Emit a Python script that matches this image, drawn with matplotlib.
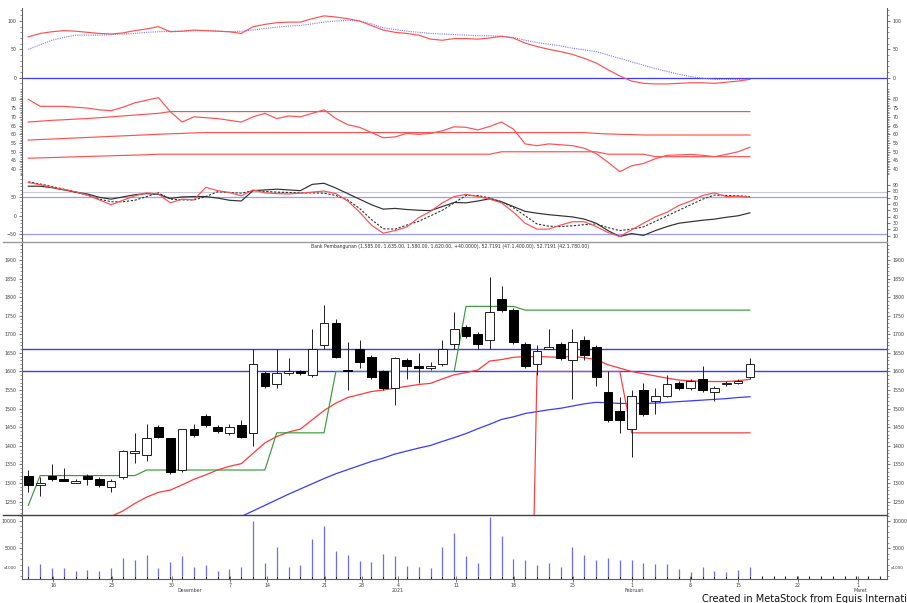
import matplotlib
matplotlib.use("Agg")
import matplotlib.pyplot as plt
from matplotlib.lines import Line2D
from matplotlib.ticker import MultipleLocator
import numpy as np

# ---------------- data ----------------
opens = [1320, 1295, 1320, 1310, 1300, 1320, 1310, 1290, 1315, 1380,
         1375, 1450, 1420, 1335, 1445, 1480, 1450, 1435, 1455, 1435,
         1595, 1565, 1595, 1600, 1590, 1670, 1730, 1605, 1660, 1640,
         1600, 1555, 1630, 1615, 1610, 1620, 1675, 1720, 1700, 1685,
         1795, 1765, 1675, 1620, 1660, 1675, 1630, 1685, 1665, 1545,
         1495, 1445, 1550, 1520, 1535, 1570, 1555, 1580, 1545, 1565,
         1570, 1585]
highs = [1335, 1315, 1350, 1340, 1310, 1325, 1315, 1310, 1390, 1435,
         1460, 1455, 1420, 1445, 1460, 1485, 1455, 1460, 1470, 1660,
         1600, 1660, 1635, 1605, 1715, 1780, 1740, 1680, 1685, 1645,
         1605, 1640, 1635, 1650, 1625, 1685, 1760, 1725, 1705, 1855,
         1830, 1770, 1680, 1670, 1715, 1680, 1715, 1695, 1670, 1600,
         1530, 1550, 1570, 1555, 1590, 1575, 1580, 1615, 1560, 1575,
         1580, 1635]
lows = [1275, 1265, 1305, 1305, 1300, 1295, 1290, 1275, 1310, 1355,
        1360, 1420, 1325, 1330, 1425, 1450, 1435, 1430, 1420, 1400,
        1555, 1555, 1590, 1590, 1585, 1660, 1635, 1550, 1610, 1580,
        1550, 1510, 1580, 1570, 1605, 1615, 1660, 1690, 1660, 1660,
        1760, 1675, 1610, 1590, 1660, 1630, 1525, 1630, 1560, 1465,
        1435, 1370, 1480, 1485, 1530, 1550, 1550, 1545, 1520, 1560,
        1565, 1580]
closes = [1295, 1300, 1310, 1305, 1305, 1310, 1295, 1305, 1385, 1385,
          1420, 1425, 1330, 1445, 1430, 1455, 1440, 1450, 1425, 1620,
          1560, 1595, 1600, 1595, 1660, 1730, 1640, 1600, 1625, 1585,
          1555, 1635, 1615, 1610, 1615, 1660, 1715, 1695, 1675, 1760,
          1765, 1680, 1615, 1655, 1665, 1635, 1680, 1645, 1585, 1470,
          1470, 1535, 1485, 1535, 1565, 1555, 1575, 1550, 1555, 1570,
          1575, 1620]
volume = [1760, 2070, 1340, 1340, 900, 1030, 840, 1450, 3170, 2860,
          3770, 1450, 2550, 3590, 1630, 1940, 840, 1210, 1630, 10050,
          2250, 5290, 1520, 1940, 6650, 9140, 4560, 3770, 2670, 2550,
          3960, 3650, 1760, 1630, 1450, 5180, 7860, 3590, 2360, 10680,
          7250, 2990, 2860, 1940, 2360, 1630, 5180, 3770, 2860, 3170,
          2860, 2860, 2360, 2120, 2120, 1150, 710, 1520, 840, 710,
          1030, 1630]
ma_short = [np.nan] * 7 + [
    1210, 1225, 1245, 1262, 1275, 1281, 1295, 1310, 1322, 1335,
    1345, 1352, 1380, 1408, 1425, 1437, 1445, 1470, 1495, 1515,
    1530, 1538, 1546, 1550, 1555, 1560, 1565, 1568, 1580, 1591,
    1597, 1604, 1628, 1632, 1638, 1640, 1640, 1639, 1638, 1641,
    1637, 1632, 1618, 1609, 1600, 1594, 1588, 1582, 1577, 1575,
    1573, 1573, 1573, 1575, 1579]
ma_long = [np.nan] * 18 + [
    1210, 1225, 1240, 1255, 1270, 1284, 1298, 1312, 1325, 1336,
    1347, 1358, 1367, 1378, 1386, 1394, 1401, 1412, 1422, 1433,
    1446, 1458, 1471, 1478, 1487, 1492, 1497, 1501, 1507, 1513,
    1517, 1516, 1514, 1514, 1514, 1515, 1517, 1519, 1521, 1523,
    1525, 1527, 1530, 1532]
green_stop = [1240, 1320, 1320, 1320, 1320, 1320, 1320, 1320, 1320, 1320,
              1335, 1335, 1335, 1335, 1335, 1335, 1335, 1335, 1335, 1335,
              1335, 1435, 1435, 1435, 1435, 1435, 1600, 1600, 1600, 1600,
              1600, 1600, 1600, 1600, 1600, 1600, 1600, 1775, 1775, 1775,
              1775, 1775, 1765, 1765, 1765, 1765, 1765, 1765, 1765, 1765,
              1765, 1765, 1765, 1765, 1765, 1765, 1765, 1765, 1765, 1765,
              1765, 1765]
red_stop = [np.nan] * 42 + [0, 1600, 1600, 1600, 1600, 1600, 1600, 1600, 1600,
                            1435, 1435, 1435, 1435, 1435, 1435, 1435, 1435,
                            1435, 1435, 1435]
price_levels = [1660, 1600]

macd = [72, 78, 81, 83, 82, 80, 78, 77, 79, 83,
        86, 90, 81, 82, 84, 83, 82, 81, 78, 90,
        94, 97, 98, 98, 104, 109, 107, 104, 100, 92,
        84, 80, 78, 75, 68, 66, 69, 69, 68, 70,
        73, 70, 61, 55, 50, 46, 41, 34, 26, 14,
        3, -6, -10, -11, -11, -10, -9, -9, -10, -8,
        -6, -3]
signal = [50, 58, 66, 71, 75, 75, 75, 76, 77, 78,
          80, 81, 82, 82, 83, 83, 82, 81, 82, 84,
          87, 89, 91, 92, 95, 98, 100, 101, 100, 95,
          88, 85, 82, 80, 78, 77, 76, 75, 74, 74,
          73, 71, 66, 62, 59, 56, 52, 49, 46, 40,
          34, 28, 22, 16, 11, 6, 2, -1, -3, -3,
          -3, -3]

rsi = [80, 76, 76, 76, 75.5, 75, 74, 73.5, 75.5, 78,
       79.5, 81, 73, 67, 70, 69.5, 69, 68, 67, 70,
       72, 69, 70.5, 70, 72, 74, 69, 65.5, 64, 61,
       58, 58.5, 60.5, 60, 60.5, 62, 64.3, 64, 62.5, 64.5,
       67, 63, 54.5, 53.5, 54.5, 54, 53.5, 52, 49, 44,
       38.6, 42, 43.3, 46, 48, 48.2, 48.5, 48, 47.2, 48.5,
       50, 52.6]
band_upper = [67, 67.5, 68, 68.3, 68.7, 69, 69.5, 70, 70.5, 71,
              71.5, 72, 73, 73, 73, 73, 73, 73, 73, 73,
              73, 73, 73, 73, 73, 73, 73, 73, 73, 73,
              73, 73, 73, 73, 73, 73, 73, 73, 73, 73,
              73, 73, 73, 73, 73, 73, 73, 73, 73, 73,
              73, 73, 73, 73, 73, 73, 73, 73, 73, 73,
              73, 73]
band_mid = [56.7, 57, 57.3, 57.6, 57.9, 58.2, 58.5, 58.8, 59.1, 59.4,
            59.7, 60, 60.3, 60.5, 60.8, 61, 61, 61, 61, 61,
            61, 61, 61, 61, 61, 61, 61, 61, 61, 61,
            61, 61, 61, 61, 61, 61, 61, 61, 61, 61,
            61, 61, 61, 61, 61, 61, 61, 61, 60.5, 60.2,
            60, 59.8, 59.6, 59.6, 59.6, 59.6, 59.6, 59.6, 59.6, 59.6,
            59.6, 59.6]
band_low = [46.3, 46.5, 46.7, 46.9, 47.1, 47.3, 47.5, 47.7, 47.9, 48.1,
            48.3, 48.6, 48.6, 48.6, 48.6, 48.6, 48.6, 48.6, 48.6, 48.6,
            48.6, 48.6, 48.6, 48.6, 48.6, 48.6, 48.6, 48.6, 48.6, 48.6,
            48.6, 48.6, 48.6, 48.6, 48.6, 48.6, 48.6, 48.6, 48.6, 48.6,
            50, 50, 50, 50, 50, 50, 50, 50, 50, 48.6,
            48.6, 48.6, 48.6, 47.2, 47.2, 47.2, 47.2, 47.2, 47.2, 47.2,
            47.2, 47.2]

stoch_k = [90, 84, 77, 71, 65, 56, 43, 30, 42, 54,
           62, 59, 35, 45, 43, 77, 68, 63, 54, 70,
           62, 60, 59, 61, 64, 67, 60, 40, 10, -25,
           -47, -40, -30, -5, 12, 35, 52, 58, 52, 45,
           35, 10, -20, -36, -36, -25, -16, -16, -29, -45,
           -56, -38, -20, -3, 10, 28, 40, 55, 62, 52,
           53, 50]
stoch_d = [92, 86, 79, 72, 64, 56, 45, 38, 38, 42,
           52, 62, 45, 43, 43, 52, 65, 63, 61, 68,
           66, 64, 63, 62, 62, 61, 55, 43, 20, -10,
           -35, -36, -25, -15, 0, 15, 35, 55, 55, 48,
           38, 22, 0, -22, -28, -29, -27, -24, -22, -32,
           -40, -36, -30, -15, 0, 15, 30, 45, 56, 55,
           54, 52]
osc_black = [80, 80, 76, 70, 64, 59, 50, 45, 51, 57,
             60, 58, 47, 51, 52, 52, 48, 42, 40, 68,
             70, 72, 70, 68, 85, 88, 75, 60, 45, 30,
             18, 20, 17, 15, 14, 25, 36, 35, 40, 46,
             38, 25, 12, 7, 3, 0, -3, -9, -20, -40,
             -56, -48, -53, -40, -29, -20, -16, -12, -9, -4,
             0, 8]

date_labels = ['16', '23', '30', '7', '14', '21', '28', '4', '11', '18',
               '25', '1', '8', '15', '22', '1']
month_labels = ['Desember', '2021', 'Februari', 'Maret']

title = ("Bank Pembangunan (1,585.00, 1,635.00, 1,580.00, 1,620.00, +40.0000), "
         "52.7191 (47.1,400.00), 52.7191 (42.1,780.00)")

# ---------------- layout (pixel geometry) ----------------
W, H = 907, 603
fig = plt.figure(figsize=(W / 100, H / 100), dpi=100)
X0, X1 = 22, 887
STEP = 11.83
XFIRST = 28.3
xlim = ((X0 - XFIRST) / STEP, (X1 - XFIRST) / STEP)
idx = np.arange(len(closes))
AX_COL = '#606060'
LBL = 3.4
RED = '#ff5050'


def px_axes(top, bottom):
    ax = fig.add_axes([X0 / W, 1 - bottom / H, (X1 - X0) / W, (bottom - top) / H])
    ax.set_xlim(*xlim)
    ax.patch.set_alpha(0)
    for s in ('top', 'bottom'):
        ax.spines[s].set_visible(False)
    for s in ('left', 'right'):
        ax.spines[s].set_color(AX_COL)
        ax.spines[s].set_linewidth(0.8)
    ax.set_xticks([])
    ax.tick_params(axis='y', which='both', left=True, right=True,
                   labelleft=True, labelright=True, labelsize=LBL,
                   colors='#404040', direction='out', length=2.5,
                   width=0.5, pad=1.5)
    ax.tick_params(axis='y', which='minor', length=1.5, width=0.4)
    return ax


def pxline(x0, x1, y, color, lw):
    fig.add_artist(Line2D([x0 / W, x1 / W], [1 - y / H, 1 - y / H],
                          color=color, lw=lw, transform=fig.transFigure))


# ---- panel 1: MACD ----
ax1 = px_axes(8, 88)
ax1.set_ylim(-18.2, 122.9)
ax1.set_yticks([0, 50, 100])
ax1.yaxis.set_minor_locator(MultipleLocator(10))
ax1.axhline(0, color='#3a3aff', lw=0.9)
ax1.plot(idx, signal, color='#7a7aff', lw=0.8, ls=(0, (1, 1)))
ax1.plot(idx, macd, color=RED, lw=0.85)

# ---- panel 2: RSI with bands ----
ax2 = px_axes(88, 175)
ax2.set_ylim(36.7, 86.5)
ax2.set_yticks([40, 45, 50, 55, 60, 65, 70, 75, 80])
ax2.yaxis.set_minor_locator(MultipleLocator(1))
for band in (band_upper, band_mid, band_low):
    ax2.plot(idx, band, color=RED, lw=0.85)
ax2.plot(idx, rsi, color=RED, lw=0.85)

# ---- panel 3: stochastic ----
ax3 = px_axes(175, 241.7)
ax3.set_ylim(-70, 110.3)
ax3.set_yticks([-50, 0, 50])
ax3.yaxis.set_minor_locator(MultipleLocator(10))
ax3.tick_params(axis='y', which='both', labelright=False)
ax3r = ax3.twinx()
ax3r.set_ylim(0.47, 105.7)
ax3r.set_yticks([10, 20, 30, 40, 50, 60, 70, 80, 90])
ax3r.tick_params(axis='y', which='both', labelsize=LBL, colors='#404040',
                 length=2.5, width=0.5, pad=1.5)
for s in ('top', 'bottom', 'left', 'right'):
    ax3r.spines[s].set_visible(False)
ax3.axhline(65, color='#c8c8d8', lw=0.8)
ax3.axhline(50, color='#9a9aff', lw=0.9)
ax3.axhline(-50, color='#9a9aff', lw=0.9)
ax3.plot(idx, osc_black, color='#303030', lw=0.85)
ax3.plot(idx, stoch_d, color='#303030', lw=0.8, ls=(0, (2, 1.5)))
ax3.plot(idx, stoch_k, color=RED, lw=0.85)

# ---- main price panel ----
axm = px_axes(241.7, 515)
axm.set_ylim(1214, 1949)
axm.set_yticks(np.arange(1250, 1901, 50))
axm.yaxis.set_minor_locator(MultipleLocator(10))
for lvl in price_levels:
    axm.axhline(lvl, color='#3a3aff', lw=1.0)
axm.plot(idx, ma_long, color='#3a3aff', lw=0.9)
axm.plot(idx, ma_short, color='#ff3a3a', lw=0.9)
axm.plot(idx, green_stop, color='#3a9a3a', lw=0.85)
axm.plot(idx, red_stop, color='#ff3a3a', lw=0.85)
o = np.array(opens, float)
c = np.array(closes, float)
hi = np.array(highs, float)
lo = np.array(lows, float)
axm.vlines(idx, lo, hi, color='#202020', lw=0.7, zorder=3)
up = c >= o
body_bottom = np.minimum(o, c)
body_h = np.maximum(np.abs(c - o), 1.5)
axm.bar(idx[up], body_h[up], bottom=body_bottom[up], width=0.74,
        facecolor='white', edgecolor='#202020', lw=0.7, zorder=4)
axm.bar(idx[~up], body_h[~up], bottom=body_bottom[~up], width=0.74,
        facecolor='black', edgecolor='black', lw=0.7, zorder=4)
fig.text(450 / W, 1 - 246.5 / H, title, fontsize=3.3, color='#303030',
         ha='center', va='center')

# ---- volume panel ----
axv = px_axes(515, 579)
axv.set_ylim(-623, 11099)
axv.set_yticks([5000, 10000])
axv.yaxis.set_minor_locator(MultipleLocator(1000))
axv.vlines(idx, 0, volume, color='#6a6aff', lw=0.9)
axv.spines['bottom'].set_visible(True)
axv.spines['bottom'].set_color(AX_COL)
axv.spines['bottom'].set_linewidth(0.8)
tick_px = [53, 112, 172, 230, 267, 325, 362, 398, 456, 514, 573, 632, 690,
           738, 798, 858]
axv.set_xticks([(p - XFIRST) / STEP for p in tick_px])
axv.set_xticklabels(date_labels)
axv.set_xticks(np.arange(0, 73), minor=True)
axv.tick_params(axis='x', which='major', labelsize=LBL, colors='#404040',
                direction='inout', length=4, width=0.5, pad=1)
axv.tick_params(axis='x', which='minor', direction='in', length=2.5,
                width=0.8, color='#202020')
for lbl_txt, px in zip(month_labels, [190, 398, 634, 860]):
    fig.text(px / W, 1 - 591 / H, lbl_txt, fontsize=LBL, color='#404040',
             ha='center', va='center')
fig.text(10 / W, 1 - 568 / H, 'x1000', fontsize=3.0, color='#404040',
         ha='center', va='center')
fig.text(897 / W, 1 - 568 / H, 'x1000', fontsize=3.0, color='#404040',
         ha='center', va='center')

# separators
pxline(3, X1, 241.7, '#9a9a9a', 1.0)
pxline(3, X1, 515, '#404040', 1.0)

fig.text(702 / W, 1 - 599 / H, 'Created in MetaStock from Equis International',
         fontsize=7.0, color='#111111', ha='left', va='center',
         family='DejaVu Sans')

fig.savefig('out.png', dpi=100, facecolor='white')
